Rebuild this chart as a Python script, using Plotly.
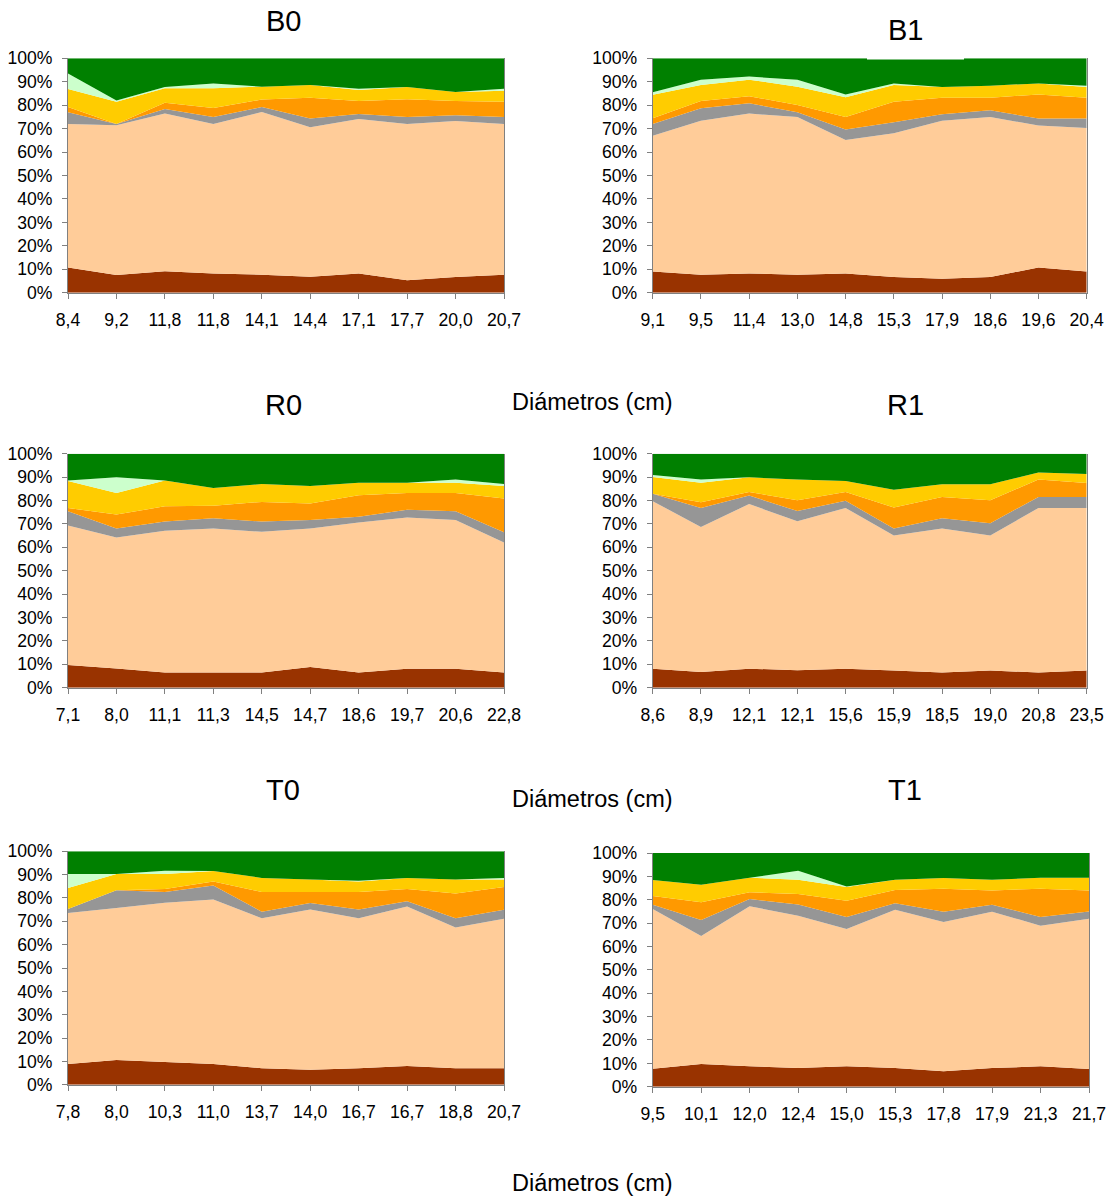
import plotly.graph_objects as go

W, H = 1114, 1198

# ---------------- data (percent of each class per tree) ----------------
B0_labels = ["8,4", "9,2", "11,8", "11,8", "14,1", "14,4", "17,1", "17,7", "20,0", "20,7"]
B0_s1 = [10.7, 7.5, 9.2, 8.2, 7.7, 6.8, 8.2, 5.3, 6.7, 7.7]
B0_s2 = [61.3, 63.9, 67.2, 63.8, 69.4, 63.8, 65.9, 66.7, 66.6, 64.3]
B0_s3 = [5.0, 0.6, 2.0, 3.0, 2.1, 3.7, 2.1, 3.0, 2.4, 3.0]
B0_s4 = [2.2, 0.0, 2.6, 3.8, 3.2, 8.9, 5.6, 7.5, 6.1, 6.5]
B0_s5 = [7.7, 9.5, 6.2, 8.4, 5.5, 5.4, 4.7, 5.3, 3.8, 4.7]
B0_s6 = [6.6, 0.5, 0.6, 2.1, 0.0, 0.0, 0.5, 0.0, 0.0, 0.8]
B0_s7 = [6.5, 18.0, 12.2, 10.7, 12.1, 11.4, 13.0, 12.2, 14.4, 13.0]

B1_labels = ["9,1", "9,5", "11,4", "13,0", "14,8", "15,3", "17,9", "18,6", "19,6", "20,4"]
B1_s1 = [9.0, 7.7, 8.2, 7.7, 8.2, 6.7, 6.0, 6.7, 10.7, 9.0]
B1_s2 = [58.0, 65.7, 68.2, 67.3, 56.9, 61.3, 67.4, 68.3, 60.6, 61.3]
B1_s3 = [5.0, 5.3, 4.4, 2.0, 4.5, 4.7, 2.7, 2.8, 3.0, 4.0]
B1_s4 = [2.4, 3.1, 3.0, 3.1, 5.4, 8.8, 7.1, 5.4, 10.3, 8.9]
B1_s5 = [10.0, 6.8, 7.1, 7.8, 8.4, 7.1, 4.6, 5.1, 4.7, 4.6]
B1_s6 = [1.1, 2.3, 1.3, 3.0, 1.2, 0.7, 0.0, 0.0, 0.0, 0.5]
B1_s7 = [14.5, 9.1, 7.8, 9.1, 15.4, 10.7, 12.2, 11.7, 10.7, 11.7]

R0_labels = ["7,1", "8,0", "11,1", "11,3", "14,5", "14,7", "18,6", "19,7", "20,6", "22,8"]
R0_s1 = [9.7, 8.2, 6.5, 6.5, 6.5, 8.8, 6.5, 8.1, 8.1, 6.5]
R0_s2 = [59.6, 56.0, 60.6, 61.5, 60.1, 59.2, 64.1, 64.6, 63.6, 55.5]
R0_s3 = [6.1, 3.8, 3.9, 4.4, 4.4, 3.7, 2.5, 3.4, 3.7, 4.4]
R0_s4 = [1.4, 6.0, 6.5, 5.4, 8.4, 7.0, 9.1, 7.1, 7.8, 14.5]
R0_s5 = [11.5, 9.2, 11.1, 7.5, 7.6, 7.5, 5.4, 4.4, 4.4, 5.3]
R0_s6 = [0.3, 6.7, 0.0, 0.0, 0.0, 0.0, 0.0, 0.0, 1.4, 0.8]
R0_s7 = [11.4, 10.1, 11.4, 14.7, 13.0, 13.8, 12.4, 12.4, 11.0, 13.0]

R1_labels = ["8,6", "8,9", "12,1", "12,1", "15,6", "15,9", "18,5", "19,0", "20,8", "23,5"]
R1_s1 = [8.1, 6.7, 8.1, 7.5, 8.1, 7.3, 6.5, 7.3, 6.5, 7.3]
R1_s2 = [71.6, 62.0, 70.4, 63.6, 68.7, 57.7, 61.5, 57.7, 70.3, 69.5]
R1_s3 = [3.2, 8.1, 3.6, 4.4, 3.1, 3.0, 4.4, 5.3, 4.7, 4.7]
R1_s4 = [0.0, 2.4, 1.5, 4.6, 3.7, 9.0, 9.1, 9.8, 7.5, 6.0]
R1_s5 = [7.1, 8.4, 6.3, 8.9, 4.7, 7.6, 5.4, 6.8, 3.0, 3.8]
R1_s6 = [0.9, 1.4, 0.0, 0.0, 0.0, 0.0, 0.0, 0.0, 0.0, 0.0]
R1_s7 = [9.1, 11.0, 10.1, 11.0, 11.7, 15.4, 13.1, 13.1, 8.0, 8.7]

T0_labels = ["7,8", "8,0", "10,3", "11,0", "13,7", "14,0", "16,7", "16,7", "18,8", "20,7"]
T0_s1 = [8.9, 10.6, 9.7, 8.9, 7.1, 6.4, 7.1, 8.0, 7.1, 7.1]
T0_s2 = [64.7, 65.1, 68.3, 70.5, 64.2, 68.7, 64.2, 68.3, 60.3, 64.0]
T0_s3 = [1.7, 7.6, 4.6, 6.0, 2.8, 2.8, 3.8, 2.3, 3.9, 3.9]
T0_s4 = [0.0, 0.0, 1.3, 1.7, 8.5, 4.7, 7.5, 5.3, 10.6, 9.7]
T0_s5 = [9.0, 7.0, 6.4, 4.5, 6.0, 5.3, 4.5, 4.7, 6.0, 3.2]
T0_s6 = [6.0, 0.0, 1.4, 0.0, 0.0, 0.0, 0.3, 0.0, 0.0, 0.7]
T0_s7 = [9.7, 9.7, 8.3, 8.4, 11.4, 12.1, 12.6, 11.4, 12.1, 11.4]

T1_labels = ["9,5", "10,1", "12,0", "12,4", "15,0", "15,3", "17,8", "17,9", "21,3", "21,7"]
T1_s1 = [7.7, 9.7, 8.7, 8.0, 8.7, 8.0, 6.6, 8.0, 8.7, 7.6]
T1_s2 = [68.3, 54.8, 68.5, 65.2, 58.8, 67.7, 63.9, 66.9, 60.2, 64.3]
T1_s3 = [1.9, 6.8, 3.1, 4.8, 5.1, 2.8, 4.4, 3.0, 3.7, 3.1]
T1_s4 = [3.7, 7.6, 2.9, 4.5, 7.0, 5.7, 9.8, 6.1, 12.1, 9.0]
T1_s5 = [6.8, 7.5, 6.2, 6.1, 5.8, 4.4, 4.6, 4.6, 4.7, 5.4]
T1_s6 = [0.0, 0.0, 0.0, 3.8, 0.3, 0.0, 0.0, 0.0, 0.0, 0.0]
T1_s7 = [11.6, 13.6, 10.6, 7.6, 14.3, 11.4, 10.7, 11.4, 10.6, 10.6]

COLORS = ["#993300", "#FFCC99", "#969696", "#FF9900", "#FFCC00", "#CCFFCC", "#008000"]

FONT = "Liberation Sans, Arial, sans-serif"

# panel name, data, plot-area pixel box (left, right, top, bottom), title position
panels = [
    ("B0", B0_labels, [B0_s1, B0_s2, B0_s3, B0_s4, B0_s5, B0_s6, B0_s7], (68, 504, 58.3, 292.7), (283, 21)),
    ("B1", B1_labels, [B1_s1, B1_s2, B1_s3, B1_s4, B1_s5, B1_s6, B1_s7], (652.7, 1086.7, 58.3, 292.7), (905, 30)),
    ("R0", R0_labels, [R0_s1, R0_s2, R0_s3, R0_s4, R0_s5, R0_s6, R0_s7], (68, 504, 453.7, 687.7), (283, 405)),
    ("R1", R1_labels, [R1_s1, R1_s2, R1_s3, R1_s4, R1_s5, R1_s6, R1_s7], (652.7, 1086.7, 453.7, 687.7), (905, 405)),
    ("T0", T0_labels, [T0_s1, T0_s2, T0_s3, T0_s4, T0_s5, T0_s6, T0_s7], (68, 504, 851.3, 1084.7), (283, 790)),
    ("T1", T1_labels, [T1_s1, T1_s2, T1_s3, T1_s4, T1_s5, T1_s6, T1_s7], (652.7, 1089, 853, 1086.7), (905, 790)),
]

fig = go.Figure()
layout = dict(
    width=W, height=H, autosize=False,
    margin=dict(l=0, r=0, t=0, b=0, pad=0, autoexpand=False),
    paper_bgcolor="white", plot_bgcolor="white", showlegend=False,
    font=dict(family=FONT, color="black", size=17.6),
)
annotations = []
shapes = []

def px_x(v):
    return v / W

def px_y(v):
    return 1 - v / H

for i, (name, labels, series, box, tpos) in enumerate(panels):
    k = "" if i == 0 else str(i + 1)
    xa, ya = "x" + k, "y" + k
    xs = list(range(len(labels)))
    for j, s in enumerate(series):
        fig.add_trace(go.Scatter(
            x=xs, y=s, xaxis=xa, yaxis=ya, stackgroup=name, mode="none",
            fillcolor=COLORS[j], line=dict(width=0), hoverinfo="skip",
        ))
    l, r, t, b = box
    layout["xaxis" + k] = dict(
        domain=[px_x(l), px_x(r)], anchor=ya, range=[0, len(labels) - 1],
        tickmode="array", tickvals=xs, ticktext=labels, automargin=False,
        showgrid=False, zeroline=False, showline=True, linecolor="#808080", linewidth=1,
        ticks="outside", ticklen=5, tickcolor="#808080", ticklabelstandoff=6,
        tickfont=dict(size=17.6, family=FONT, color="black"),
    )
    layout["yaxis" + k] = dict(
        domain=[px_y(b), px_y(t)], anchor=xa, range=[0, 100], automargin=False,
        tickmode="array", tickvals=list(range(0, 101, 10)),
        ticktext=[f"{v}%" for v in range(0, 101, 10)],
        showgrid=False, zeroline=False, showline=True, linecolor="#808080", linewidth=1,
        mirror=True, ticks="outside", ticklen=5, tickcolor="#808080", ticklabelstandoff=6,
        tickfont=dict(size=17.6, family=FONT, color="black"),
    )
    annotations.append(dict(
        text=name, x=px_x(tpos[0]), y=px_y(tpos[1]), xref="paper", yref="paper",
        xanchor="center", yanchor="middle", showarrow=False,
        font=dict(size=29, family=FONT, color="black"),
    ))

# white title box of B1 overlapping the plot top
shapes.append(dict(type="rect", xref="paper", yref="paper", layer="above",
                   x0=px_x(867), x1=px_x(964), y0=px_y(59.5), y1=px_y(40),
                   fillcolor="white", line=dict(width=0)))

for yy in (402, 799, 1183):
    annotations.append(dict(
        text="Diámetros (cm)", x=px_x(592), y=px_y(yy), xref="paper", yref="paper",
        xanchor="center", yanchor="middle", showarrow=False,
        font=dict(size=23.5, family=FONT, color="black"),
    ))

layout["annotations"] = annotations
layout["shapes"] = shapes
fig.update_layout(**layout)

fig.write_html("out.html", config={"displayModeBar": False},
               post_script="document.body.style.margin='0';")
